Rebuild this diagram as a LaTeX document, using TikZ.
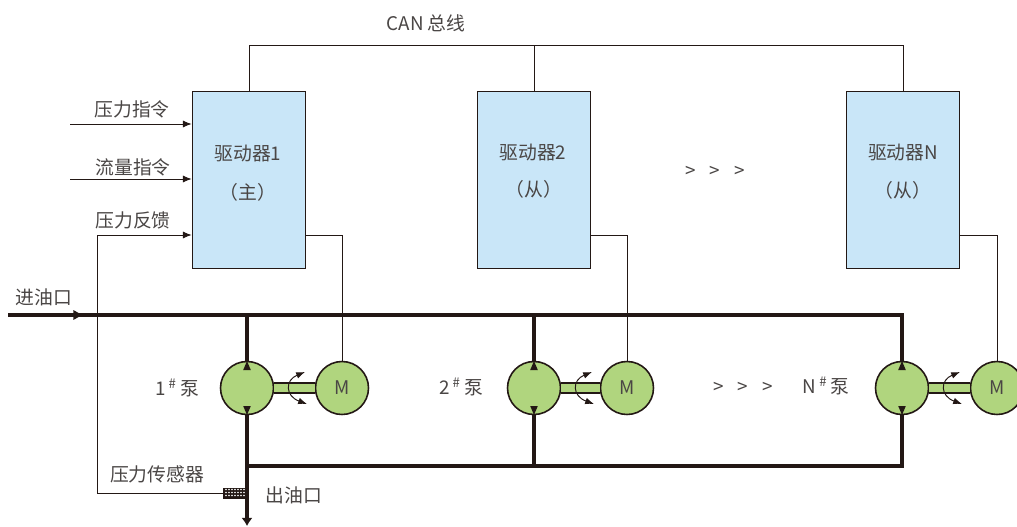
\documentclass[tikz,border=0pt]{standalone}
\usepackage{fontspec}
\setmainfont{Noto Sans CJK SC}
\usepackage{tikz}
\usetikzlibrary{arrows.meta}

\definecolor{linedark}{HTML}{231815}
\definecolor{textdark}{HTML}{4A4645}
\definecolor{boxblue}{HTML}{C9E6F8}
\definecolor{pumpgreen}{HTML}{B0D57E}

\tikzset{
  lbl/.style={text=textdark, inner sep=0pt, font=\fontsize{10.7pt}{12pt}\selectfont},
  drvbox/.style={draw=linedark, line width=0.9pt, fill=boxblue, minimum width=2.26cm, minimum height=3.54cm, inner sep=0pt},
  roundel/.style={circle, draw=linedark, line width=0.9pt, fill=pumpgreen, minimum size=1.06cm, inner sep=0pt, text=textdark, font=\fontsize{10.7pt}{12pt}\selectfont},
  thinline/.style={draw=linedark, line width=0.55pt},
  oilline/.style={draw=linedark, line width=2pt},
  sigarrow/.style={thinline, -{Latex[length=5pt,width=4pt]}},
  shaft/.style={draw=linedark, line width=0.9pt, double=pumpgreen, double distance=4.5pt}
}

\begin{document}
\begin{tikzpicture}[x=0.02cm,y=-0.02cm]
\clip (0,0) rectangle (1017,527);
\fill[white] (0,0) rectangle (1017,527);

% Free ends
\coordinate (cmdp) at (70,124);
\coordinate (cmdq) at (70,179);
\coordinate (fbk) at (97,235);
\coordinate (oilin) at (8,315);
\coordinate (oiltip) at (84,315);
\coordinate (bus) at (249,45);
\coordinate (ret) at (247,466);
\coordinate (outlet) at (247,526);

% Drivers
\node[drvbox] (drv1) at (249,180) {};
\node[drvbox] (drv2) at (534,180) {};
\node[drvbox] (drvN) at (903,180) {};

% Pumps and motors
\foreach \n/\x/\m in {1/247/342, 2/534/627, N/902/997} {
    \node[roundel] (pump\n) at (\x,388) {};
    \node[roundel] (motor\n) at (\m,388) {M};
    \draw[shaft] (pump\n) -- (motor\n);
    \draw[thinline, {Latex[length=5pt,width=3.8pt]}-{Latex[length=5pt,width=3.8pt]}] ({\x+58},372) .. controls ({\x+38},380) and ({\x+38},396) .. ({\x+60},404);
}

% CAN bus
\draw[thinline] (drv1.north) -- (bus) -- (bus -| drvN) -- (drvN.north);
\draw[thinline] (drv2.north) -- (bus -| drv2);

% Motor wires
\draw[thinline] (drv1.east |- fbk) -| (motor1.north);
\draw[thinline] (drv2.east |- fbk) -| (motor2.north);
\draw[thinline] (drvN.east |- fbk) -| (motorN.north);

% Command inputs
\draw[sigarrow] (cmdp) -- (cmdp -| drv1.west);
\draw[sigarrow] (cmdq) -- (cmdq -| drv1.west);

% Sensor and feedback
\node[fill=linedark, minimum width=0.48cm, minimum height=0.22cm, inner sep=0pt] (sensor) at (235,493) {};
\foreach \x in {226,229,232,235,238,241,244} {
    \foreach \y in {489.5,492.5,495.5} {
        \fill[white] (\x,\y) circle (0.5pt);
    }
}
\draw[sigarrow] (sensor.west) -| (fbk) -- (fbk -| drv1.west);

% Oil lines
\draw[oilline, line join=miter] (oilin) -- (oilin -| pumpN) -- (pumpN.north);
\draw[oilline, -{Latex[length=6pt,width=6pt]}] (oilin) -- (oiltip);
\draw[oilline] (pump1.north) -- (pump1 |- oilin);
\draw[oilline] (pump2.north) -- (pump2 |- oilin);
\draw[oilline, -{Latex[length=4.6pt,width=6.4pt]}] (pump1.south) -- (outlet);
\draw[oilline, line join=miter] (ret) -- (ret -| pumpN) -- (pumpN.south);
\draw[oilline] (pump2.south) -- (ret -| pump2);

% Small triangles in the pumps
\foreach \x in {247,534,902} {
    \fill[linedark] (\x,361) -- ++(3.8,9) -- ++(-7.6,0) -- cycle;
    \fill[linedark] (\x,415) -- ++(3.8,-9) -- ++(-7.6,0) -- cycle;
}

% Labels
\node[lbl] (canlbl) at (426,23) {CAN 总线};
\node[lbl] (plbl) at (132,109) {压力指令};
\node[lbl] (qlbl) at (133,167) {流量指令};
\node[lbl] (fbklbl) at (133,220) {压力反馈};
\node[lbl] (inlbl) at (44,297) {进油口};
\node[lbl] (outlbl) at (294,495) {出油口};
\node[lbl] (senslbl) at (157,474) {压力传感器};

\node[lbl] (drv1a) at (248,154) {驱动器1};
\node[lbl] (drv1b) at (248,192) {（主）};
\node[lbl] (drv2a) at (533,153) {驱动器2};
\node[lbl] (drv2b) at (534,189) {（从）};
\node[lbl] (drvNa) at (903,153) {驱动器N};
\node[lbl] (drvNb) at (903,190) {（从）};

\node[lbl] (dots1) at (715,172) {>\hspace{8pt}>\hspace{8pt}>};
\node[lbl] (dots2) at (743,388) {>\hspace{8pt}>\hspace{8pt}>};

\node[lbl] (pump1lbl) at (177,388) {1\,\textsuperscript{\#}\,泵};
\node[lbl] (pump2lbl) at (461,387) {2\,\textsuperscript{\#}\,泵};
\node[lbl] (pumpNlbl) at (826,386) {N\,\textsuperscript{\#}\,泵};
\end{tikzpicture}
\end{document}
